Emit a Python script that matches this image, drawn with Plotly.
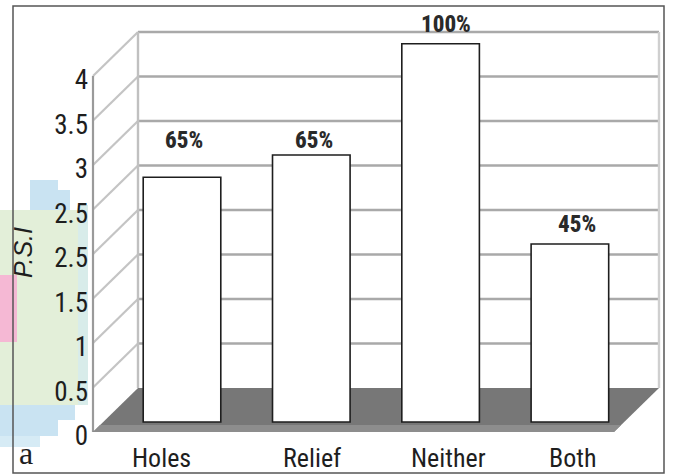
import plotly.graph_objects as go

# ---------------- data ----------------
categories = ["Holes", "Relief", "Neither", "Both"]
psi_values = [2.75, 3.0, 4.25, 2.0]
pct_labels = ["65%", "65%", "100%", "45%"]
tick_values = [0, 0.5, 1, 1.5, 2, 2.5, 3, 3.5, 4]
tick_labels = ["0", "0.5", "1", "1.5", "2.5", "2.5", "3", "3.5", "4"]

# ---------------- geometry (pixels) ----------------
W, H = 673, 474
PX_PER_UNIT = 89.0
BASE_PX = 422.0
DOM_TOP, DOM_BOT = 20.0, 440.0
X_LEFT, X_RIGHT = 93.0, 659.0
FIRST_CENTER, CAT_PX = 182.0, 129.3
DEPTH_X, DEPTH_Y = 45.0, 44.0
BACK_BASE = 388.0
FRONT_BASE = BACK_BASE + DEPTH_Y
COND = "Roboto Condensed, Liberation Sans Narrow, Arial Narrow, sans-serif"

def px(x):
    return x / W

def py(y):
    return 1 - y / H

def path(points):
    return "M " + " L ".join(f"{px(a):.5f},{py(b):.5f}" for a, b in points) + " Z"

yrange = [-(DOM_BOT - BASE_PX) / PX_PER_UNIT, (BASE_PX - DOM_TOP) / PX_PER_UNIT]
xrange = [-(FIRST_CENTER - X_LEFT) / CAT_PX,
          (len(categories) - 1) + (X_RIGHT - (FIRST_CENTER + (len(categories) - 1) * CAT_PX)) / CAT_PX]

shapes = []
blobs = [
    ((0, 210, 86, 405), "#e3efd9"),
    ((0, 275, 17, 342), "#f5b8d4"),
    ((30, 180, 58, 210), "#c9e3f2"),
    ((45, 190, 70, 210), "#c9e3f2"),
    ((0, 405, 75, 420), "#c9e3f2"),
    ((0, 420, 58, 436), "#c9e3f2"),
    ((0, 436, 40, 447), "#d6ebf5"),
    ((78, 205, 88, 405), "#d8ecea"),
]
for (x0, y0, x1, y1), col in blobs:
    shapes.append(dict(type="rect", xref="paper", yref="paper", x0=px(x0), x1=px(x1),
                       y0=py(y1), y1=py(y0), fillcolor=col, line=dict(width=0), layer="below"))

back_top = BACK_BASE - PX_PER_UNIT * tick_values[-1]
back_left = X_LEFT + DEPTH_X
shapes.append(dict(type="path", xref="paper", yref="paper",
                   path=path([(back_left, back_top), (X_RIGHT, back_top), (X_RIGHT, BACK_BASE), (back_left, BACK_BASE)]),
                   fillcolor="white", line=dict(width=0), layer="below"))
shapes.append(dict(type="path", xref="paper", yref="paper",
                   path=path([(X_LEFT, back_top + DEPTH_Y), (back_left, back_top), (back_left, BACK_BASE), (X_LEFT, FRONT_BASE)]),
                   fillcolor="white", line=dict(width=0), layer="below"))

for v in tick_values[1:]:
    yb = BACK_BASE - PX_PER_UNIT * v
    shapes.append(dict(type="line", xref="paper", yref="paper", x0=px(back_left), x1=px(X_RIGHT),
                       y0=py(yb), y1=py(yb), line=dict(color="#a9a9a9", width=2.4), layer="below"))
    shapes.append(dict(type="line", xref="paper", yref="paper", x0=px(X_LEFT), x1=px(back_left),
                       y0=py(yb + DEPTH_Y), y1=py(yb), line=dict(color="#c4c4c4", width=2.2), layer="below"))

for (x0, y0, x1, y1, c, w) in [
    (X_LEFT, back_top + DEPTH_Y, X_LEFT, FRONT_BASE, "#9a9a9a", 2.2),
    (back_left, back_top, back_left, BACK_BASE, "#c0c0c0", 2.4),
    (X_RIGHT, back_top, X_RIGHT, BACK_BASE, "#cfcfcf", 2.4),
]:
    shapes.append(dict(type="line", xref="paper", yref="paper", x0=px(x0), x1=px(x1),
                       y0=py(y0), y1=py(y1), line=dict(color=c, width=w), layer="below"))

shapes.append(dict(type="path", xref="paper", yref="paper",
                   path=path([(X_LEFT, FRONT_BASE), (back_left, BACK_BASE), (X_RIGHT, BACK_BASE), (X_RIGHT - DEPTH_X, FRONT_BASE)]),
                   fillcolor="#777777", line=dict(width=0), layer="below"))
shapes.append(dict(type="path", xref="paper", yref="paper",
                   path=path([(X_LEFT + 7, FRONT_BASE - 7), (X_RIGHT - DEPTH_X + 7, FRONT_BASE - 7),
                              (X_RIGHT - DEPTH_X, FRONT_BASE), (X_LEFT, FRONT_BASE)]),
                   fillcolor="#8d8d8d", line=dict(width=0), layer="below"))

shapes.append(dict(type="rect", xref="paper", yref="paper", x0=px(13), x1=px(664), y0=py(473), y1=py(6),
                   line=dict(color="#555555", width=1.5), fillcolor="rgba(0,0,0,0)", layer="above"))

fig = go.Figure()
fig.add_trace(go.Bar(
    x=categories, y=psi_values, width=0.6,
    marker=dict(color="white", line=dict(color="#1e1e1e", width=1.6)),
    hoverinfo="x+y", showlegend=False,
))

annotations = []
pct_yshift = [37, 15, 19, 20]
pct_xshift = [2, 3, 5, 7]
for i, (c, v, t) in enumerate(zip(categories, psi_values, pct_labels)):
    annotations.append(dict(x=c, y=v, xref="x", yref="y", text=t, showarrow=False,
                            yanchor="middle", xanchor="center", yshift=pct_yshift[i], xshift=pct_xshift[i],
                            font=dict(family=COND, size=23, color="#2a2a2a", weight=800)))

cat_xshift = [-21, 1, 8, 3]
for i, c in enumerate(categories):
    annotations.append(dict(x=c, y=py(458), xref="x", yref="paper", text=c, showarrow=False,
                            yanchor="middle", xanchor="center", xshift=cat_xshift[i],
                            font=dict(family=COND, size=26, color="#1e1e1e")))

annotations.append(dict(x=px(23), y=py(252), xref="paper", yref="paper", text="<i>P.S.I</i>", textangle=-90,
                        showarrow=False, xanchor="center", yanchor="middle",
                        font=dict(family="Liberation Sans, Arial, sans-serif", size=25, color="#1e1e1e")))
annotations.append(dict(x=px(26), y=py(473), xref="paper", yref="paper", text="a", showarrow=False,
                        xanchor="center", yanchor="bottom",
                        font=dict(family="Liberation Serif, Times New Roman, serif", size=32, color="#1e1e1e")))

fig.update_layout(
    width=W, height=H,
    margin=dict(l=0, r=0, t=0, b=0),
    paper_bgcolor="white", plot_bgcolor="rgba(0,0,0,0)",
    shapes=shapes, annotations=annotations,
    xaxis=dict(domain=[px(X_LEFT), px(X_RIGHT)], range=xrange, showticklabels=False,
               showgrid=False, zeroline=False, showline=False, automargin=False, fixedrange=True),
    yaxis=dict(domain=[py(DOM_BOT), py(DOM_TOP)], range=yrange, tickvals=tick_values, ticktext=tick_labels,
               ticks="", ticklabelshift=14, ticklabelstandoff=4, showgrid=False, zeroline=False,
               showline=False, automargin=False, fixedrange=True,
               tickfont=dict(family=COND, size=27, color="#1e1e1e")),
)

fig.write_html("out.html")
